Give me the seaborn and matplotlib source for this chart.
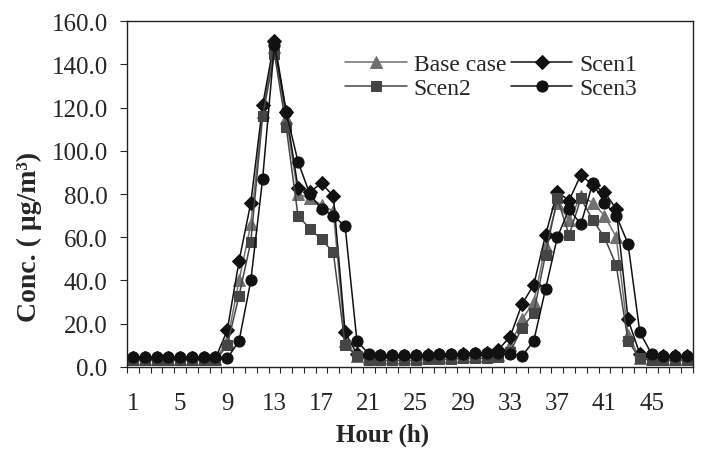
import matplotlib
matplotlib.use("Agg")
import matplotlib.pyplot as plt
import seaborn as sns
import numpy as np

# hourly concentrations
hours = list(range(1, 49))
base = [3.5]*8 + [12, 40, 66, 118, 148, 115, 80, 78, 75, 72, 12, 5] \
    + [4, 4, 4, 4, 4, 4.5, 4.5, 4.5, 5, 5, 5, 5.5] \
    + [10, 22, 30, 56, 76, 68, 79, 76, 70, 60, 15, 4, 3.5, 3.5, 3.5, 3.5]
scen1 = [4]*8 + [17, 49, 76, 121, 151, 118, 83, 81, 85, 79, 16, 6] \
    + [5, 5, 5, 5, 5, 5.5, 5.5, 5.5, 6, 6, 6.5, 8] \
    + [14, 29, 38, 61, 81, 77, 89, 84, 81, 73, 22, 6, 5, 5, 5, 5]
scen2 = [3]*8 + [10, 33, 58, 116, 145, 111, 70, 64, 59, 53, 10, 5] \
    + [3, 3, 3, 3, 3, 3.5, 3.5, 3.5, 4, 4, 4, 4.5] \
    + [7, 18, 25, 52, 78, 61, 78, 68, 60, 47, 12, 4, 3, 3, 3, 3]
scen3 = [4.5]*8 + [4, 12, 40, 87, 149, 118, 95, 80, 73, 70, 65, 12] \
    + [6, 5.5, 5.5, 5.5, 5.5, 5.5, 6, 6, 6, 6.5, 6.5, 6.5] \
    + [6, 5, 12, 36, 60, 73, 66, 85, 76, 70, 57, 16, 6, 5, 5, 5]

names = ['Base case', 'Scen1', 'Scen2', 'Scen3']
series = [base, scen1, scen2, scen3]
markers = ['^', 'D', 's', 'o']
colors = ['#707070', '#111111', '#454545', '#111111']
sizes = [8, 7, 7.5, 8]

sns.set_style("ticks")
plt.rcParams['font.family'] = ['Liberation Serif', 'DejaVu Serif']
plt.rcParams['font.size'] = 18

fig = plt.figure(figsize=(7.02, 4.52), dpi=100)
ax = fig.add_axes([0.181, 0.186, 0.806, 0.765])

for name, vals, m, c, s in zip(names, series, markers, colors, sizes):
    sns.lineplot(x=hours, y=vals, ax=ax, label=name, color=c, marker=m,
                 markersize=s, markeredgecolor=c, linewidth=1.1)

ax.set_xlim(0.5, 48.5)
ax.set_ylim(0, 160)
ax.set_xticks(range(1, 49, 4))
ax.set_xticks(np.arange(0.5, 49, 1), minor=True)
ax.tick_params(axis='x', which='major', length=0, pad=18, labelsize=18)
ax.tick_params(axis='x', which='minor', length=4, width=0.8)
ax.set_yticks(range(0, 161, 20))
ax.set_yticklabels(['%.1f' % v for v in range(0, 161, 20)])
ax.tick_params(axis='y', length=5, width=0.8, pad=9, labelsize=18)
for sp in ax.spines.values():
    sp.set_linewidth(1.0)
    sp.set_color('#222222')

ax.set_xlabel('Hour (h)', fontweight='bold', fontsize=18)
ax.xaxis.set_label_coords(0.452, -0.16)
ax.set_ylabel('Conc. ( μg/m³)', fontweight='bold', fontsize=20)
ax.yaxis.set_label_coords(-0.15, 0.38)

# legend laid out row-wise: Base case, Scen1 / Scen2, Scen3
h, l = ax.get_legend_handles_labels()
order = [0, 2, 1, 3]
ax.legend([h[i] for i in order], [l[i] for i in order], loc='upper left',
          bbox_to_anchor=(0.369, 0.933), ncol=2, frameon=False,
          handlelength=2.6, handletextpad=0.3, columnspacing=0.2,
          labelspacing=0.1, fontsize=17, borderaxespad=0)

plt.savefig('out.png', dpi=100)
